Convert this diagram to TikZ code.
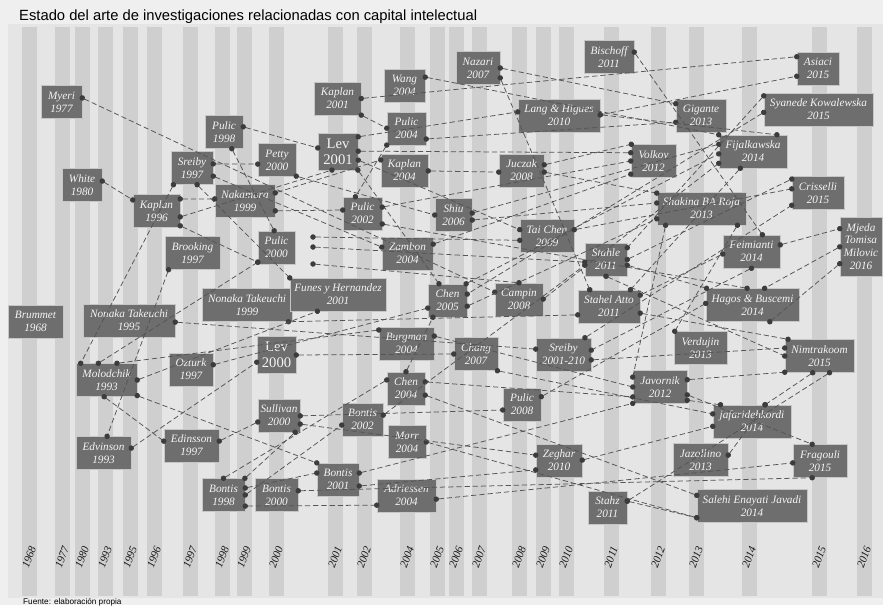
\documentclass[tikz,border=0pt]{standalone}
\usepackage{fontspec}
\usepackage{xcolor}
\usepackage{tikz}
\usetikzlibrary{arrows.meta}
\newfontfamily\titlefont{Liberation Sans}
\newfontfamily\boxfont{Liberation Serif}
\definecolor{bggray}{HTML}{EFEFEF}
\definecolor{panelgray}{HTML}{E5E5E5}
\definecolor{stripegray}{HTML}{CFCFCF}
\definecolor{boxgray}{HTML}{6E6E6E}
\definecolor{boxtext}{HTML}{F4F4F4}
\definecolor{linegray}{HTML}{555555}
\definecolor{dotgray}{HTML}{3C3C3C}

\begin{document}
\begin{tikzpicture}[
    x=0.03cm, y=-0.03cm,
    box/.style={rectangle, draw=gray!45, line width=0.4pt, fill=boxgray, text=boxtext, align=center, inner sep=1pt, minimum height=0.99cm, font=\boxfont\itshape\fontsize{9.6}{11}\selectfont},
    lev/.style={font=\boxfont\fontsize{12.5}{13.5}\selectfont, minimum height=1.1cm},
    bw/.style={minimum width=#1*0.03cm},
    bh/.style={minimum height=#1*0.03cm},
    link/.style={draw=linegray, line width=0.65pt, dash pattern=on 4.5pt off 2.5pt, {Circle[length=4.6pt, color=dotgray]}-{Circle[length=4.6pt, color=dotgray]}, shorten <=-2.3pt, shorten >=-2.3pt},
    yearlab/.style={font=\boxfont\itshape\fontsize{9.5}{10}\selectfont, rotate=70, inner sep=0pt, text=black!90}
]
    \useasboundingbox (0,0) rectangle (883,605);
    \fill[bggray] (0,0) rectangle (883,605);
    \fill[panelgray] (8,24) rectangle (883,598);
    \node[anchor=base west, inner sep=0pt, font=\titlefont\fontsize{12.6}{14}\selectfont] (titulo) at (19,20) {Estado del arte de investigaciones relacionadas con capital intelectual};
    \node[anchor=base west, inner sep=0pt, font=\titlefont\fontsize{7}{8}\selectfont] (fuente) at (23,604) {Fuente: elaboración propia};

    \foreach \sx/\yr in {29/1968, 62/1977, 82/1980, 105/1993, 130/1995, 154/1996, 190/1997, 222/1998, 244/1999, 276/2000, 335/2001, 364/2002, 407/2004, 437/2005, 456/2006, 479/2007, 519/2008, 543/2009, 566/2010, 611/2011, 658/2012, 696/2013, 749/2014, 819/2015, 864/2016} {
        \fill[stripegray] (\sx-7.5,27) rectangle (\sx+7.5,596);
        \node[yearlab] (y\yr) at (\sx,557) {\yr};
    }

    \node[box, bw=41] (myeri) at (61.5,102) {Myeri\\1977};
    \node[box, bw=38] (pulicA) at (224,132) {Pulic\\1998};
    \node[box, bw=38] (petty) at (277,160) {Petty\\2000};
    \node[box, bw=42] (sreibyA) at (192,168) {Sreiby\\1997};
    \node[box, bw=40] (white) at (82,185) {White\\1980};
    \node[box, bw=47] (kaplanA) at (156.5,211) {Kaplan\\1996};
    \node[box, bw=60] (nakamura) at (245,201) {Nakamura\\1999};
    \node[box, bw=37] (pulicB) at (276.5,247.5) {Pulic\\2000};
    \node[box, bw=55] (brooking) at (192.5,253) {Brooking\\1997};
    \node[box, bw=55] (brummet) at (35.5,321.5) {Brummet\\1968};
    \node[box, bw=92] (nonakaA) at (129,320.5) {Nonaka Takeuchi\\1995};
    \node[box, bw=90] (nonakaB) at (247,305) {Nonaka Takeuchi\\1999};
    \node[box, lev, bw=39] (levA) at (276.5,355) {Lev\\2000};
    \node[box, bw=44] (ozturk) at (191,369.5) {Ozturk\\1997};
    \node[box, bw=61] (molodchik) at (106.5,380) {Molodchik\\1993};
    \node[box, bw=55] (edvinson) at (103.5,453) {Edvinson\\1993};
    \node[box, bw=55] (edinsson) at (191.5,445.5) {Edinsson\\1997};
    \node[box, bw=42] (sullivan) at (279,415.5) {Sullivan\\2000};
    \node[box, bw=43] (bontisA) at (223.5,495) {Bontis\\1998};
    \node[box, bw=43] (bontisB) at (276.5,495) {Bontis\\2000};
    \node[box, bw=41] (bontisC) at (362.5,419.5) {Bontis\\2002};
    \node[box, bw=42] (bontisD) at (338,479.5) {Bontis\\2001};
    \node[box, bw=38] (marr) at (407,442) {Marr\\2004};
    \node[box, bw=59] (adriessen) at (406.5,495.5) {Adriessen\\2004};
    \node[box, bw=38] (chenA) at (406,388.5) {Chen\\2004};
    \node[box, bw=55] (burgman) at (406.5,343.5) {Burgman\\2004};
    \node[box, bw=44] (chang) at (476,354) {Chang\\2007};
    \node[box, bw=39] (chenB) at (447.5,300.5) {Chen\\2005};
    \node[box, bw=96] (funes) at (338,294.5) {Funes y Hernandez\\2001};
    \node[box, bw=51] (zambon) at (407.5,253.5) {Zambon\\2004};
    \node[box, bw=39] (pulicC) at (362.5,213.5) {Pulic\\2002};
    \node[box, bw=37] (shiu) at (453.5,215) {Shiu\\2006};
    \node[box, bw=54] (taichen) at (547,236) {Tai Chen\\2009};
    \node[box, bw=48] (campin) at (519,299.5) {Campin\\2008};
    \node[box, bw=55] (sreibyB) at (563.5,354.5) {Sreiby\\2001-210};
    \node[box, bw=38] (pulicD) at (522,404.5) {Pulic\\2008};
    \node[box, bw=46] (zeghar) at (559,460.5) {Zeghar\\2010};
    \node[box, bw=39] (stahz) at (607.5,507.5) {Stahz\\2011};
    \node[box, bw=55] (jazollino) at (700.5,460) {Jazollino\\2013};
    \node[box, bw=110] (salehi) at (752,506) {Salehi Enayati Javadi\\2014};
    \node[box, bw=54] (fragouli) at (820,461) {Fragouli\\2015};
    \node[box, bw=78] (jafari) at (752,421.5) {jafaridehkordi\\2014};
    \node[box, bw=54] (javornik) at (660,387) {Javornik\\2012};
    \node[box, bw=53] (verdujin) at (700.5,348) {Verdujin\\2013};
    \node[box, bw=69] (nimtrakoom) at (819.5,356) {Nimtrakoom\\2015};
    \node[box, bw=93] (hagos) at (752.5,305) {Hagos \& Buscemi\\2014};
    \node[box, bw=62] (stahelatto) at (609,306.5) {Stahel Atto\\2011};
    \node[box, bw=42] (stahle) at (606,259.5) {Stahle\\2011};
    \node[box, bw=57] (feimianti) at (751.5,251.5) {Feimianti\\2014};
    \node[box, bw=42, bh=59] (mjeda) at (861,246.5) {Mjeda\\Tomisa\\Milovic\\2016};
    \node[box, bw=89] (shakina) at (701.5,208.5) {Shakina BA Roja\\2013};
    \node[box, bw=52] (crisselli) at (818,193) {Crisselli\\2015};
    \node[box, bw=45] (volkov) at (653.5,161) {Volkov\\2012};
    \node[box, bw=68] (fijal) at (753,151.5) {Fijalkawska\\2014};
    \node[box, bw=50] (gigante) at (701,115.5) {Gigante\\2013};
    \node[box, bw=109] (syanede) at (818.5,109.5) {Syanede Kowalewska\\2015};
    \node[box, bw=42] (asiaci) at (818,68.5) {Asiaci\\2015};
    \node[box, bw=50] (bischoff) at (609,57) {Bischoff\\2011};
    \node[box, bw=82] (lang) at (559,115.5) {Lang \& Higues\\2010};
    \node[box, bw=44] (nazari) at (478,68) {Nazari\\2007};
    \node[box, bw=41] (wang) at (404.5,85.5) {Wang\\2004};
    \node[box, bw=47] (kaplanB) at (337.5,98.5) {Kaplan\\2001};
    \node[box, bw=39] (pulicE) at (406.5,128.5) {Pulic\\2004};
    \node[box, lev, bw=40] (levB) at (338,151.5) {Lev\\2001};
    \node[box, bw=47] (kaplanC) at (404.5,170.5) {Kaplan\\2004};
    \node[box, bw=45] (juczak) at (521.5,170.5) {Juczak\\2008};

    \coordinate (fa) at (313,237);
    \coordinate (fb) at (313,247);
    \coordinate (fc) at (313,264);

    \draw[link] (myeri.11) -- (campin.163);
    \draw[link] (white.11) -- (kaplanA.155);
    \draw[link] (pulicA.15) -- (levB.170);
    \draw[link] (pulicA.295) -- (pulicB.98);
    \draw[link] (sreibyA.11) -- (petty.192);
    \draw[link] (sreibyA.339) -- (zambon.166);
    \draw[link] (sreibyA.222) -- (molodchik.147);
    \draw[link] (sreibyA.287) -- (funes.161);
    \draw[link] (kaplanA.27) -- (nakamura.176);
    \draw[link] (kaplanA.346) -- (levB.252);
    \draw[link] (kaplanA.328) -- (pulicB.218);
    \draw[link] (nakamura.342) -- (pulicC.170);
    \draw[link] (nakamura.15) -- (kaplanC.156);
    \draw[link] (petty.320) -- (shiu.180);
    \draw[link] (levB.36) -- (lang.175);
    \draw[link] (kaplanB.0) -- (asiaci.151);
    \draw[link] (kaplanB.325) -- (pulicE.179);
    \draw[link] (pulicE.220) -- (pulicC.113);
    \draw[link] (pulicE.332) -- (gigante.195);
    \draw[link] (lang.1) -- (asiaci.200);
    \draw[link] (wang.22) -- (fijal.154);
    \draw[link] (nazari.0) -- (gigante.155);
    \draw[link] (nazari.336) -- (stahelatto.139);
    \draw[link] (bischoff.11) -- (feimianti.57);
    \draw[link] (lang.1) -- (fijal.35);
    \draw[link] (kaplanC.359) -- (juczak.184);
    \draw[link] (juczak.14) -- (volkov.143);
    \draw[link] (levB.1) -- (volkov.160);
    \draw[link] (levB.337) -- (taichen.167);
    \draw[link] (levB.317) -- (chenB.117);
    \draw[link] (pulicC.18) -- (volkov.180);
    \draw[link] (shiu.6) -- (fijal.168);
    \draw[link] (zambon.20) -- (volkov.210);
    \draw[link] (chenB.42) -- (fijal.184);
    \draw[link] (campin.1) -- (fijal.199);
    \draw[link] (syanede.166) -- (stahle.29);
    \draw[link] (syanede.183) -- (chenB.18);
    \draw[link] (stahle.0) -- (crisselli.152);
    \draw[link] (taichen.13) -- (crisselli.171);
    \draw[link] (sreibyB.38) -- (crisselli.205);
    \draw[link] (juczak.356) -- (shakina.161);
    \draw[link] (shiu.345) -- (shakina.173);
    \draw[link] (chenB.344) -- (shakina.193);
    \draw[link] (shakina.205) -- (javornik.160);
    \draw[link] (shakina.335) -- (verdujin.147);
    \draw[link] (stahelatto.20) -- (feimianti.185);
    \draw[link] (feimianti.270) -- (sreibyB.9);
    \draw[link] (feimianti.13) -- (mjeda.140);
    \draw[link] (mjeda.181) -- (hagos.54);
    \draw[link] (mjeda.219) -- (hagos.316);
    \draw[link] (stahle.345) -- (hagos.160);
    \draw[link] (pulicD.22) -- (hagos.178);
    \draw[link] (pulicC.332) -- (hagos.108);
    \draw[link] (stahelatto.348) -- (nimtrakoom.152);
    \draw[link] (sreibyB.349) -- (nimtrakoom.167);
    \draw[link] (stahle.270) -- (nimtrakoom.180);
    \draw[link] (javornik.15) -- (nimtrakoom.205);
    \draw[link] (nimtrakoom.248) -- (jafari.52);
    \draw[link] (stahz.18) -- (nimtrakoom.301);
    \draw[link] (jazollino.10) -- (jafari.52);
    \draw[link] (chang.322) -- (jafari.169);
    \draw[link] (zeghar.1) -- (jafari.187);
    \draw[link] (javornik.334) -- (jafari.152);
    \draw[link] (burgman.15) -- (javornik.180);
    \draw[link] (chenA.19) -- (javornik.200);
    \draw[link] (bontisD.17) -- (javornik.211);
    \draw[link] (javornik.344) -- (fragouli.115);
    \draw[link] (adriessen.353) -- (fragouli.184);
    \draw[link] (bontisB.11) -- (fragouli.245);
    \draw[link] (chenA.341) -- (salehi.169);
    \draw[link] (marr.0) -- (salehi.192);
    \draw[link] (stahz.18) -- (salehi.192);
    \draw[link] (nonakaA.358) -- (sreibyB.169);
    \draw[link] (levA.0) -- (chang.180);
    \draw[link] (nonakaB.338) -- (stahelatto.195);
    \draw[link] (ozturk.12) -- (chenB.201);
    \draw[link] (molodchik.116) -- (pulicB.218);
    \draw[link] (molodchik.58) -- (burgman.154);
    \draw[link] (molodchik.0) -- (funes.219);
    \draw[link] (molodchik.333) -- (bontisD.142);
    \draw[link] (molodchik.262) -- (edinsson.171);
    \draw[link] (brooking.215) -- (edvinson.78);
    \draw[link] (edvinson.10) -- (levA.200);
    \draw[link] (edinsson.9) -- (sullivan.197);
    \draw[link] (sullivan.359) -- (pulicD.196);
    \draw[link] (sullivan.338) -- (zeghar.167);
    \draw[link] (bontisA.90) -- (chenA.156);
    \draw[link] (bontisA.38) -- (sullivan.314);
    \draw[link] (bontisA.18) -- (bontisD.163);
    \draw[link] (bontisA.0) -- (bontisC.195);
    \draw[link] (bontisA.333) -- (adriessen.198);
    \draw[link] (bontisD.343) -- (zeghar.202);
    \draw[link] (bontisC.12) -- (stahle.195);
    \draw[link] (chenA.90) -- (chenB.229);
    \draw[link] (fijal.233) -- (stahelatto.38);
    \draw[link] (fa) -- (taichen.189);
    \draw[link] (fb) -- (stahle.187);
    \draw[link] (fc) -- (campin.90);
\end{tikzpicture}
\end{document}
